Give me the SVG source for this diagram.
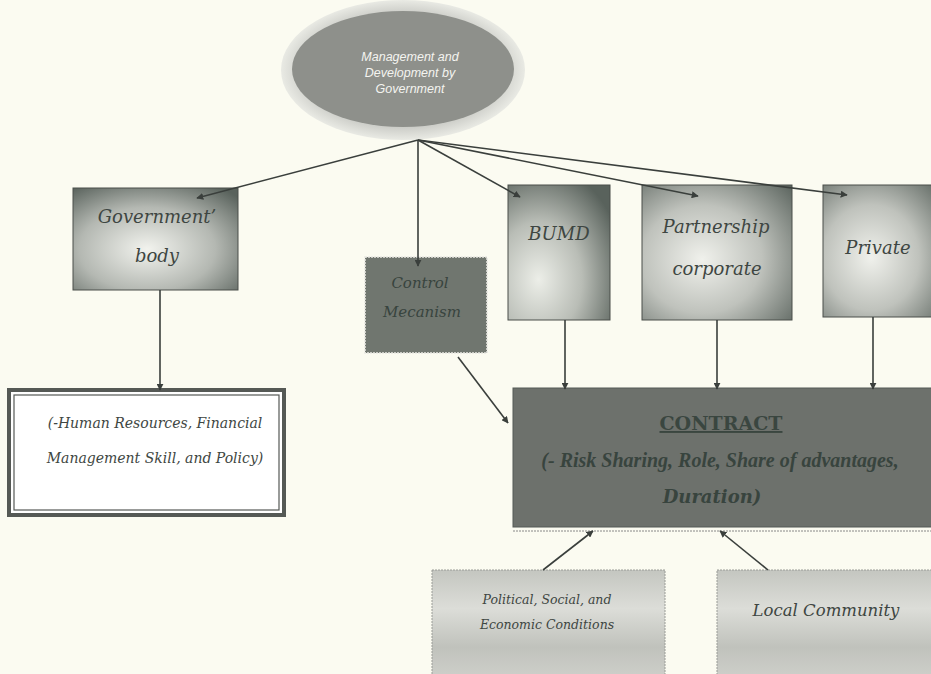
<svg xmlns="http://www.w3.org/2000/svg" width="931" height="674" viewBox="0 0 931 674">
<style>
.lbl{font-family:"DejaVu Serif","Liberation Serif",serif;font-style:italic;fill:#3e4642;text-anchor:middle}
.dk{fill:#38443e}
.oval{font-family:"Liberation Sans",Arial,sans-serif;font-style:italic;fill:#f4f4f0;font-size:12.5px;text-anchor:middle}
.con{stroke:#3a3f3c;stroke-width:1.6;fill:none;marker-end:url(#ah)}
.box{stroke:#4a4f4b;stroke-width:1}
</style>
<defs>
<marker id="ah" viewBox="0 0 10 10" refX="9" refY="5" markerWidth="7" markerHeight="7" orient="auto" markerUnits="userSpaceOnUse">
<path d="M0,0 L10,5 L0,10 z" fill="#3a3f3c"/>
</marker>
<radialGradient id="halo" cx="0.5" cy="0.5" r="0.5">
<stop offset="0.8" stop-color="#c9cac5"/><stop offset="1" stop-color="#e9eae4"/>
</radialGradient>
<radialGradient id="gBody" cx="0.45" cy="0.6" r="0.75">
<stop offset="0" stop-color="#f2f3ee"/><stop offset="0.55" stop-color="#b4b8b2"/><stop offset="1" stop-color="#59625c"/>
</radialGradient>
<radialGradient id="gBumd" cx="0.3" cy="0.7" r="0.85">
<stop offset="0" stop-color="#eceee8"/><stop offset="0.5" stop-color="#b9bdb6"/><stop offset="1" stop-color="#59625c"/>
</radialGradient>
<radialGradient id="gPart" cx="0.4" cy="0.55" r="0.8">
<stop offset="0" stop-color="#f0f1ec"/><stop offset="0.5" stop-color="#bfc2bc"/><stop offset="1" stop-color="#5d6660"/>
</radialGradient>
<linearGradient id="gLow" x1="0" y1="0" x2="0" y2="1">
<stop offset="0" stop-color="#c4c6c0"/><stop offset="0.35" stop-color="#dcddd8"/><stop offset="0.7" stop-color="#c0c2bc"/><stop offset="1" stop-color="#cfd0cb"/>
</linearGradient>
</defs>
<rect width="931" height="674" fill="#fbfbf1"/>

<g id="management">
<ellipse cx="403" cy="70" rx="122" ry="70" fill="url(#halo)"/>
<ellipse cx="403" cy="69" rx="111" ry="58" fill="#8e908b"/>
<text class="oval" x="410" y="61">Management and</text>
<text class="oval" x="410" y="77">Development by</text>
<text class="oval" x="410" y="93">Government</text>
</g>

<g id="gov-body">
<rect class="box" x="73" y="188" width="165" height="102" fill="url(#gBody)"/>
<text class="lbl" x="157" y="223" font-size="18">Government’</text>
<text class="lbl" x="157" y="262" font-size="18">body</text>
</g>

<g id="control">
<rect x="365" y="257" width="122" height="96" fill="#70766f" stroke="#e8e8e2" stroke-width="1.5" stroke-dasharray="2 1"/>
<text class="lbl dk" x="420" y="288" font-size="15">Control</text>
<text class="lbl dk" x="422" y="317" font-size="15">Mecanism</text>
</g>

<g id="bumd">
<rect class="box" x="508" y="185" width="102" height="135" fill="url(#gBumd)"/>
<text class="lbl" x="559" y="240" font-size="18">BUMD</text>
</g>

<g id="partnership">
<rect class="box" x="642" y="185" width="150" height="135" fill="url(#gPart)"/>
<text class="lbl" x="716" y="233" font-size="18">Partnership</text>
<text class="lbl" x="717" y="275" font-size="18">corporate</text>
</g>

<g id="private">
<rect class="box" x="823" y="185" width="120" height="132" fill="url(#gPart)"/>
<text class="lbl" x="878" y="254" font-size="18">Private</text>
</g>

<g id="resources">
<rect x="9" y="390" width="275" height="125" fill="#ffffff" stroke="#555955" stroke-width="4"/>
<rect x="14" y="395" width="265" height="115" fill="none" stroke="#555955" stroke-width="1.2"/>
<text class="lbl" x="155" y="428" font-size="14">(-Human Resources, Financial</text>
<text class="lbl" x="155" y="463" font-size="14">Management Skill, and Policy)</text>
</g>

<g id="contract">
<rect x="513" y="388" width="430" height="139" fill="#6d716c" stroke="#555a56" stroke-width="1"/>
<line x1="513" y1="531" x2="931" y2="531" stroke="#888" stroke-width="1" stroke-dasharray="2 1"/>
<text x="721" y="430" font-family="DejaVu Serif,'Liberation Serif',serif" font-weight="bold" font-size="19" fill="#3a4640" text-anchor="middle" text-decoration="underline">CONTRACT</text>
<text x="720" y="467" font-family="'Liberation Serif',serif" font-style="italic" font-size="20" font-weight="bold" fill="#38443e" text-anchor="middle">(- Risk Sharing, Role, Share of advantages,</text>
<text class="lbl dk" x="712" y="503" font-size="18" font-weight="bold">Duration)</text>
</g>

<g id="political">
<rect x="432" y="570" width="233" height="110" fill="url(#gLow)" stroke="#9a9c97" stroke-width="1" stroke-dasharray="2 1"/>
<text class="lbl" x="547" y="604" font-size="12.5">Political, Social, and</text>
<text class="lbl" x="547" y="629" font-size="12.5">Economic Conditions</text>
</g>

<g id="local">
<rect x="717" y="570" width="226" height="110" fill="url(#gLow)" stroke="#9a9c97" stroke-width="1" stroke-dasharray="2 1"/>
<text class="lbl" x="826" y="616" font-size="16.5">Local Community</text>
</g>

<g id="connectors">
<line class="con" x1="418" y1="140" x2="197" y2="198"/>
<line class="con" x1="418" y1="140" x2="418" y2="266"/>
<line class="con" x1="418" y1="140" x2="520" y2="197"/>
<line class="con" x1="418" y1="140" x2="698" y2="196"/>
<line class="con" x1="418" y1="140" x2="847" y2="195"/>
<line class="con" x1="160" y1="290" x2="160" y2="390"/>
<line class="con" x1="565" y1="320" x2="565" y2="389"/>
<line class="con" x1="717" y1="320" x2="717" y2="389"/>
<line class="con" x1="873" y1="317" x2="873" y2="389"/>
<line class="con" x1="458" y1="357" x2="508" y2="423"/>
<line class="con" x1="543" y1="570" x2="593" y2="531"/>
<line class="con" x1="768" y1="570" x2="720" y2="531"/>
</g>
</svg>
